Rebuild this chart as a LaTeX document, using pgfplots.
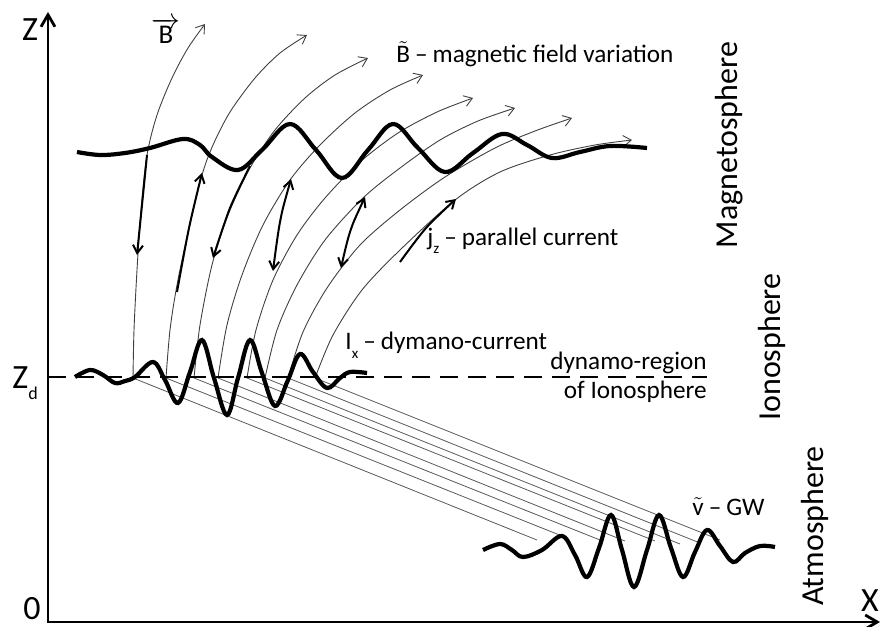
\documentclass[border=0pt]{standalone}
\usepackage{pgfplots}
\pgfplotsset{compat=1.18}
\usepackage{fontspec}
\setmainfont{Carlito}
\usetikzlibrary{arrows.meta}
\tikzset{
  fl/.style={line width=0.45pt, black!75},
  tip/.style={-{Straight Barb[length=4pt,width=5.5pt,line width=0.45pt]}},
  jz/.style={line width=1pt, black},
  jtip/.style={-{Straight Barb[length=4pt,width=5pt,line width=1pt]}},
  jtips/.style={{Straight Barb[length=4pt,width=5pt,line width=1pt]}-{Straight Barb[length=4pt,width=5pt,line width=1pt]}},
  wave/.style={line width=2.1pt, black, smooth, tension=0.6},
  gl/.style={line width=0.4pt, black!65},
}
\newcommand{\lab}{\fontsize{12.6}{14}\selectfont}
\newcommand{\reg}{\fontsize{16}{18}\selectfont}
\newcommand{\axl}{\fontsize{17}{19}\selectfont}
\newcommand{\dash}{\hspace{2.5pt}–\hspace{2.5pt}}
\begin{document}
\begin{tikzpicture}
\begin{axis}[scale only axis, width=441pt, height=313pt,
  xmin=0, xmax=882, ymin=0, ymax=626, y dir=reverse,
  hide axis, clip=false]

% straight lines from dynamo region to GW
\addplot[gl] coordinates {(133,378) (537,540)};
\addplot[gl] coordinates {(166,378) (562,536)};
\addplot[gl] coordinates {(194,378) (600,540)};
\addplot[gl] coordinates {(218,378) (625,541)};
\addplot[gl] coordinates {(247,378) (655,541)};
\addplot[gl] coordinates {(265,378) (680,544)};
\addplot[gl] coordinates {(288,378) (700,543)};
\addplot[gl] coordinates {(315,378) (720,540)};

% magnetic field lines
\addplot[fl, tip, smooth] coordinates {(133,378) (134,330) (137,270) (141,210) (147,155) (157,115) (172,78) (188,48) (205,24)};
\addplot[fl, tip, smooth] coordinates {(166,378) (170,330) (177,285) (189,228) (202,175) (213,145) (230,112) (255,78) (280,53) (307,35)};
\addplot[fl, tip, smooth] coordinates {(194,378) (200,325) (212,265) (228,215) (250,168) (275,130) (305,98) (335,75) (368,58)};
\addplot[fl, tip, smooth] coordinates {(218,378) (227,325) (242,275) (263,225) (290,180) (320,145) (355,113) (390,90) (423,75)};
\addplot[fl, tip, smooth] coordinates {(247,378) (256,330) (273,280) (297,235) (325,198) (360,162) (398,133) (437,112) (473,98)};
\addplot[fl, tip, smooth] coordinates {(265,378) (277,330) (297,285) (325,240) (363,198) (400,168) (440,140) (478,121) (515,108)};
\addplot[fl, tip, smooth] coordinates {(288,378) (303,332) (327,288) (360,245) (400,210) (445,177) (495,148) (535,131) (572,118)};
\addplot[fl, tip, smooth] coordinates {(315,378) (333,335) (362,290) (400,250) (455,200) (500,172) (550,155) (595,145) (632,140)};

% parallel currents j_z
\addplot[jz, jtip, smooth] coordinates {(147,155) (142,205) (137,255)};
\addplot[jz, jtip, smooth] coordinates {(177,292) (189,228) (202,173)};
\addplot[jz, jtip, smooth] coordinates {(250,166) (230,208) (213,258)};
\addplot[jz, jtips, smooth] coordinates {(291,179) (280,222) (273,271)};
\addplot[jz, jtips, smooth] coordinates {(365,197) (350,232) (341,268)};
\addplot[jz, jtip, smooth] coordinates {(400,262) (426,228) (456,199)};

% dashed dynamo line
\addplot[line width=0.8pt, dash pattern=on 9pt off 5pt] coordinates {(48,377) (707,377)};

% magnetosphere wave
\addplot[wave] coordinates {(77,152) (100,155) (125,153) (150,148) (183,139) (200,145) (212,157) (238,170) (262,150) (290,124) (316,150) (342,178) (368,150) (393,124) (418,148) (445,172) (473,153) (502,134) (527,145) (552,158) (580,152) (610,146) (647,148)};

% dynamo-current wave
\addplot[wave] coordinates {(75,377) (90,370) (103,375) (115,383) (125,381) (135,377) (153,362) (165,380) (178,403) (190,372) (202,340) (214,378) (227,415) (238,378) (250,340) (262,373) (275,406) (288,380) (300,354) (313,372) (327,388) (340,378) (350,372) (367,373)};

% gravity wave
\addplot[wave] coordinates {(483,550) (500,544) (512,550) (523,557) (542,550) (562,536) (575,555) (587,577) (599,548) (611,515) (622,550) (634,587) (647,550) (659,515) (671,548) (683,577) (695,552) (707,530) (720,546) (733,562) (745,553) (760,546) (775,547)};

% coordinate axes
\addplot[line width=1.4pt, {Straight Barb[length=6pt,width=7pt]}-{Straight Barb[length=6pt,width=7pt]}] coordinates {(48,12) (48,622) (880,622)};

% texts
\node[font=\axl, inner sep=0pt] at (axis cs:30,30) {Z};
\node[font=\axl, inner sep=0pt] at (axis cs:32,609) {0};
\node[font=\axl, inner sep=0pt] at (axis cs:870,601) {X};
\node[font=\axl, anchor=base west, inner sep=0pt] at (axis cs:12,388) {Z\raisebox{-5.5pt}{\fontsize{9}{9}\selectfont d}};
\node[font=\fontsize{13.5}{15}\selectfont, anchor=base, inner sep=0pt] at (axis cs:166,44) {$\overrightarrow{\mbox{B}}$};
\node[font=\lab, anchor=base west, inner sep=0pt] at (axis cs:396,63) {$\tilde{\mbox{B}}$\dash magnetic field variation};
\node[font=\lab, anchor=base west, inner sep=0pt] at (axis cs:427,245) {j\raisebox{-4pt}{\fontsize{7.5}{8}\selectfont z}\dash parallel current};
\node[font=\lab, anchor=base west, inner sep=0pt] at (axis cs:345,349) {I\raisebox{-4.5pt}{\fontsize{7.5}{8}\selectfont x}\dash dymano-current};
\node[font=\lab, anchor=base east, inner sep=0pt] at (axis cs:707,369) {dynamo-region};
\node[font=\lab, anchor=base east, inner sep=0pt] at (axis cs:707,398) {of Ionosphere};
\node[font=\lab, anchor=base west, inner sep=0pt] at (axis cs:692,515) {$\tilde{\mbox{v}}$\dash GW};
\node[font=\reg, rotate=90, anchor=base, inner sep=0pt] at (axis cs:737,145) {Magnetosphere};
\node[font=\reg, rotate=90, anchor=base, inner sep=0pt] at (axis cs:780,347) {Ionosphere};
\node[font=\reg, rotate=90, anchor=base, inner sep=0pt] at (axis cs:823,526) {Atmosphere};
\end{axis}
\pgfresetboundingbox
\path[use as bounding box] (0,0) rectangle (441pt,313pt);
\end{tikzpicture}
\end{document}
